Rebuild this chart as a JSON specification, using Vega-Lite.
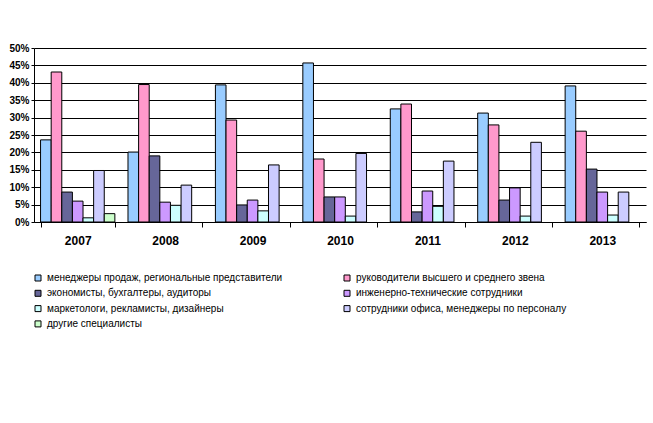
{
  "$schema": "https://vega.github.io/schema/vega-lite/v6.json",
  "autosize": "none",
  "width": 612,
  "height": 174,
  "padding": {"left": 34, "top": 48, "right": 7, "bottom": 201},
  "background": "white",
  "data": {
    "values": [
      {"year": "2007", "group": "менеджеры продаж, региональные представители", "pct": 23.6},
      {"year": "2007", "group": "руководители высшего и среднего звена", "pct": 43.1},
      {"year": "2007", "group": "экономисты, бухгалтеры, аудиторы", "pct": 8.6},
      {"year": "2007", "group": "инженерно-технические сотрудники", "pct": 6.0},
      {"year": "2007", "group": "маркетологи, рекламисты, дизайнеры", "pct": 1.2},
      {"year": "2007", "group": "сотрудники офиса, менеджеры по персоналу", "pct": 14.8},
      {"year": "2007", "group": "другие специалисты", "pct": 2.4},
      {"year": "2008", "group": "менеджеры продаж, региональные представители", "pct": 20.1},
      {"year": "2008", "group": "руководители высшего и среднего звена", "pct": 39.5},
      {"year": "2008", "group": "экономисты, бухгалтеры, аудиторы", "pct": 19.0},
      {"year": "2008", "group": "инженерно-технические сотрудники", "pct": 5.7},
      {"year": "2008", "group": "маркетологи, рекламисты, дизайнеры", "pct": 4.8},
      {"year": "2008", "group": "сотрудники офиса, менеджеры по персоналу", "pct": 10.6},
      {"year": "2008", "group": "другие специалисты", "pct": 0},
      {"year": "2009", "group": "менеджеры продаж, региональные представители", "pct": 39.4},
      {"year": "2009", "group": "руководители высшего и среднего звена", "pct": 29.3},
      {"year": "2009", "group": "экономисты, бухгалтеры, аудиторы", "pct": 4.9},
      {"year": "2009", "group": "инженерно-технические сотрудники", "pct": 6.3},
      {"year": "2009", "group": "маркетологи, рекламисты, дизайнеры", "pct": 3.2},
      {"year": "2009", "group": "сотрудники офиса, менеджеры по персоналу", "pct": 16.4},
      {"year": "2009", "group": "другие специалисты", "pct": 0},
      {"year": "2010", "group": "менеджеры продаж, региональные представители", "pct": 45.7},
      {"year": "2010", "group": "руководители высшего и среднего звена", "pct": 18.1},
      {"year": "2010", "group": "экономисты, бухгалтеры, аудиторы", "pct": 7.2},
      {"year": "2010", "group": "инженерно-технические сотрудники", "pct": 7.2},
      {"year": "2010", "group": "маркетологи, рекламисты, дизайнеры", "pct": 1.7},
      {"year": "2010", "group": "сотрудники офиса, менеджеры по персоналу", "pct": 19.7},
      {"year": "2010", "group": "другие специалисты", "pct": 0},
      {"year": "2011", "group": "менеджеры продаж, региональные представители", "pct": 32.5},
      {"year": "2011", "group": "руководители высшего и среднего звена", "pct": 33.9},
      {"year": "2011", "group": "экономисты, бухгалтеры, аудиторы", "pct": 2.9},
      {"year": "2011", "group": "инженерно-технические сотрудники", "pct": 8.9},
      {"year": "2011", "group": "маркетологи, рекламисты, дизайнеры", "pct": 4.5},
      {"year": "2011", "group": "сотрудники офиса, менеджеры по персоналу", "pct": 17.5},
      {"year": "2011", "group": "другие специалисты", "pct": 0},
      {"year": "2012", "group": "менеджеры продаж, региональные представители", "pct": 31.3},
      {"year": "2012", "group": "руководители высшего и среднего звена", "pct": 27.9},
      {"year": "2012", "group": "экономисты, бухгалтеры, аудиторы", "pct": 6.3},
      {"year": "2012", "group": "инженерно-технические сотрудники", "pct": 9.8},
      {"year": "2012", "group": "маркетологи, рекламисты, дизайнеры", "pct": 1.7},
      {"year": "2012", "group": "сотрудники офиса, менеджеры по персоналу", "pct": 22.9},
      {"year": "2012", "group": "другие специалисты", "pct": 0},
      {"year": "2013", "group": "менеджеры продаж, региональные представители", "pct": 39.1},
      {"year": "2013", "group": "руководители высшего и среднего звена", "pct": 26.1},
      {"year": "2013", "group": "экономисты, бухгалтеры, аудиторы", "pct": 15.2},
      {"year": "2013", "group": "инженерно-технические сотрудники", "pct": 8.6},
      {"year": "2013", "group": "маркетологи, рекламисты, дизайнеры", "pct": 2.0},
      {"year": "2013", "group": "сотрудники офиса, менеджеры по персоналу", "pct": 8.6},
      {"year": "2013", "group": "другие специалисты", "pct": 0}
    ]
  },
  "transform": [{"filter": "datum.pct > 0"}],
  "mark": {"type": "bar", "stroke": "black", "strokeWidth": 1},
  "encoding": {
    "x": {
      "field": "year", "type": "nominal", "title": null,
      "scale": {"paddingInner": 0.15, "paddingOuter": 0.075},
      "axis": {
        "labelAngle": 0, "labelFontWeight": "bold", "labelFontSize": 12,
        "labelPadding": 8, "tickBand": "extent", "tickSize": 5,
        "domainColor": "black", "tickColor": "black", "labelColor": "black"
      }
    },
    "xOffset": {
      "field": "group", "type": "nominal",
      "scale": {
        "domain": [
          "менеджеры продаж, региональные представители",
          "руководители высшего и среднего звена",
          "экономисты, бухгалтеры, аудиторы",
          "инженерно-технические сотрудники",
          "маркетологи, рекламисты, дизайнеры",
          "сотрудники офиса, менеджеры по персоналу",
          "другие специалисты"
        ],
        "paddingInner": 0, "paddingOuter": 0
      }
    },
    "y": {
      "field": "pct", "type": "quantitative", "title": null,
      "scale": {"domain": [0, 50], "nice": false},
      "axis": {
        "values": [0, 5, 10, 15, 20, 25, 30, 35, 40, 45, 50],
        "labelExpr": "datum.value + '%'",
        "labelFontWeight": "bold", "labelFontSize": 10, "labelColor": "black",
        "labelPadding": 2, "tickSize": 3, "tickColor": "black",
        "grid": true, "gridColor": "black", "gridOpacity": 1, "domainColor": "black"
      }
    },
    "color": {
      "field": "group", "type": "nominal", "title": null,
      "scale": {
        "domain": [
          "менеджеры продаж, региональные представители",
          "экономисты, бухгалтеры, аудиторы",
          "маркетологи, рекламисты, дизайнеры",
          "другие специалисты",
          "руководители высшего и среднего звена",
          "инженерно-технические сотрудники",
          "сотрудники офиса, менеджеры по персоналу"
        ],
        "range": ["#99ccff", "#666699", "#ccffff", "#ccffcc", "#ff99cc", "#cc99ff", "#ccccff"]
      },
      "legend": {
        "orient": "none", "legendX": -1, "legendY": 225,
        "columns": 2, "columnPadding": 59, "rowPadding": 5.3,
        "symbolType": "square", "symbolSize": 36, "symbolStrokeColor": "black",
        "symbolStrokeWidth": 1, "symbolOpacity": 1, "labelFontSize": 10,
        "labelColor": "black", "labelOffset": 4, "labelLimit": 400
      }
    }
  },
  "config": {
    "font": "Liberation Sans",
    "view": {"stroke": null},
    "axis": {"labelFont": "Liberation Sans"},
    "legend": {"labelFont": "Liberation Sans"}
  }
}
